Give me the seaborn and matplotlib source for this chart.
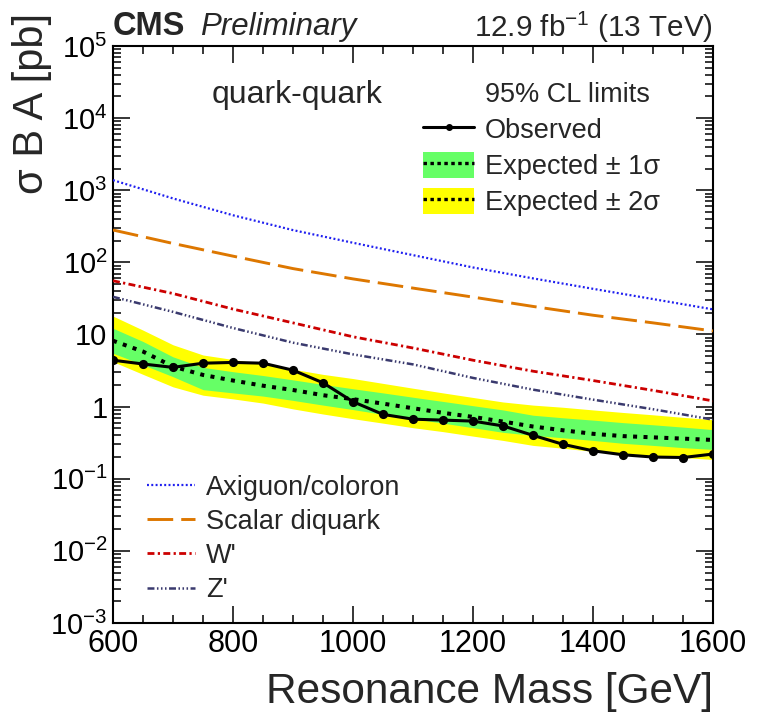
import matplotlib
matplotlib.use("Agg")
import matplotlib.pyplot as plt
import seaborn as sns
import numpy as np
from matplotlib.lines import Line2D
from matplotlib.patches import Patch
from matplotlib.ticker import LogLocator, MultipleLocator, FuncFormatter, NullFormatter

# ---------------------------------------------------------------- data
mass = [600, 650, 700, 750, 800, 850, 900, 950, 1000, 1050, 1100,
        1150, 1200, 1250, 1300, 1350, 1400, 1450, 1500, 1550, 1600]

observed = [4.4, 3.9, 3.5, 4.0, 4.1, 4.0, 3.2, 2.14, 1.17, 0.78, 0.67,
            0.65, 0.63, 0.54, 0.40, 0.30, 0.244, 0.215, 0.20, 0.197, 0.22]

expected = [8.2, 5.8, 3.6, 2.75, 2.3, 1.95, 1.7, 1.44, 1.27, 1.1, 0.95,
            0.82, 0.72, 0.62, 0.53, 0.47, 0.42, 0.39, 0.375, 0.36, 0.345]

exp_1s_up = [12.2, 8.0, 4.9, 3.5, 3.05, 2.7, 2.35, 2.03, 1.77, 1.55, 1.35,
             1.18, 1.03, 0.9, 0.76, 0.70, 0.65, 0.60, 0.56, 0.52, 0.48]
exp_1s_dn = [5.5, 3.8, 2.6, 1.72, 1.55, 1.4, 1.22, 1.05, 0.91, 0.78, 0.68,
             0.59, 0.51, 0.44, 0.40, 0.37, 0.34, 0.31, 0.29, 0.27, 0.255]
exp_2s_up = [18.0, 11.5, 7.2, 5.2, 4.5, 3.9, 3.3, 2.8, 2.45, 2.1, 1.8,
             1.55, 1.34, 1.16, 1.05, 0.98, 0.9, 0.83, 0.77, 0.71, 0.66]
exp_2s_dn = [4.2, 2.8, 1.88, 1.44, 1.28, 1.12, 0.93, 0.79, 0.68, 0.59, 0.51,
             0.45, 0.39, 0.34, 0.29, 0.265, 0.24, 0.225, 0.21, 0.197, 0.185]

theory_mass = [600, 700, 800, 900, 1000, 1100, 1200, 1300, 1400, 1500, 1600]
axigluon = [1380, 770, 450, 280, 187, 126, 85, 60, 43, 31, 22.3]
diquark = [281, 183, 122, 82, 59, 44, 33, 24.5, 18.5, 14.5, 11.2]
wprime = [55.6, 37, 22.5, 14.5, 9.3, 6.5, 4.4, 3.1, 2.3, 1.68, 1.2]
zprime = [33.3, 20.6, 12.3, 7.7, 5.3, 3.85, 2.5, 1.72, 1.25, 0.92, 0.66]

theory_labels = ["Axiguon/coloron", "Scalar diquark", "W'", "Z'"]
limit_labels = ["95% CL limits", "Observed", "Expected ± 1σ", "Expected ± 2σ"]

# ---------------------------------------------------------------- style
sns.set_theme(style="ticks")
plt.rcParams["font.family"] = ["Liberation Sans", "DejaVu Sans"]
plt.rcParams["mathtext.fontset"] = "custom"
plt.rcParams["mathtext.rm"] = "Liberation Sans"
plt.rcParams["mathtext.it"] = "Liberation Sans:italic"
plt.rcParams["mathtext.bf"] = "Liberation Sans:bold"
plt.rcParams["lines.scale_dashes"] = False

GREEN = "#66FF66"
YELLOW = "#FFFF00"
BLUE = "#1F1FF0"
ORANGE = "#DD7700"
RED = "#CC0000"
NAVY = "#3A3A6E"

theory_styles = [
    dict(color=BLUE, lw=1.6, linestyle=(0, (1.4, 1.7))),
    dict(color=ORANGE, lw=2.1, linestyle=(0, (18.5, 5.8))),
    dict(color=RED, lw=2.0, linestyle=(0, (5.0, 2.4, 1.6, 2.4))),
    dict(color=NAVY, lw=1.8, linestyle=(0, (5.0, 1.8, 1.1, 1.8, 1.1, 1.8, 1.1, 1.8))),
]

fig = plt.figure(figsize=(7.58, 7.16), dpi=100)
ax = fig.add_axes([113 / 758, 1 - 623 / 716, 600 / 758, 577 / 716])
ax.set_yscale("log")

# expected bands
ax.fill_between(mass, exp_2s_dn, exp_2s_up, color=YELLOW, lw=0, zorder=1)
ax.fill_between(mass, exp_1s_dn, exp_1s_up, color=GREEN, lw=0, zorder=2)

# theory curves
for vals, st in zip([axigluon, diquark, wprime, zprime], theory_styles):
    sns.lineplot(x=theory_mass, y=vals, ax=ax, zorder=3, **st)

# expected and observed limits
sns.lineplot(x=mass, y=expected, ax=ax, color="black", lw=2.9,
             linestyle=(0, (2.9, 4.6)), zorder=4)
sns.lineplot(x=mass, y=observed, ax=ax, color="black", lw=2.2,
             marker="o", markersize=6.6, markeredgecolor="black",
             markeredgewidth=0, zorder=5)

ax.set_xlim(600, 1600)
ax.set_ylim(1e-3, 1e5)


def decade_label(v, pos):
    e = int(round(np.log10(v)))
    if e == 0:
        return "1"
    if e == 1:
        return "10"
    return r"$\mathdefault{10^{%d}}$" % e


# axes, ticks
for sp in ax.spines.values():
    sp.set_linewidth(1.5)
    sp.set_color("black")
    sp.set_visible(True)
ax.xaxis.set_major_locator(MultipleLocator(200))
ax.xaxis.set_minor_locator(MultipleLocator(50))
ax.yaxis.set_major_locator(LogLocator(base=10, numticks=20))
ax.yaxis.set_minor_locator(LogLocator(base=10, subs=np.arange(2, 10), numticks=200))
ax.yaxis.set_major_formatter(FuncFormatter(decade_label))
ax.yaxis.set_minor_formatter(NullFormatter())
ax.tick_params(which="both", direction="in", top=True, right=True, colors="black")
ax.tick_params(which="major", length=12.5, width=1.1)
ax.tick_params(which="minor", length=6.0, width=1.1)
ax.tick_params(axis="x", which="major", labelsize=22, pad=4)
ax.tick_params(axis="y", which="major", labelsize=21, pad=4)

ax.set_xlabel("Resonance Mass [GeV]", fontsize=30.5, ha="right")
ax.xaxis.set_label_coords(1.0, -0.085)
ax.set_ylabel("σ B A [pb]", fontsize=30)
ax.yaxis.set_label_coords(-0.135, 1.057)
ax.yaxis.label.set_rotation_mode("default")
ax.yaxis.label.set_horizontalalignment("center")
ax.yaxis.label.set_verticalalignment("top")

# header
fig.text(113 / 758, 1 - 35 / 716, "CMS", fontsize=23.5, fontweight="bold",
         ha="left", va="baseline")
fig.text(200 / 758, 1 - 35 / 716, "Preliminary", fontsize=22.5, fontstyle="italic",
         ha="left", va="baseline")
fig.text(713 / 758, 1 - 37 / 716, r"12.9 fb$^{-1}$ (13 TeV)", fontsize=21.3,
         ha="right", va="baseline")
ax.text(0.165, 0.901, "quark-quark", transform=ax.transAxes, fontsize=23,
        ha="left", va="baseline")

# legend: limits
blank = Line2D([], [], linestyle="none")
h_obs = Line2D([], [], color="black", lw=2.2, marker="o", markersize=4)
h_exp = Line2D([], [], color="black", lw=2.4, linestyle=(0, (2.5, 2.5)))
h_1s = (Patch(facecolor=GREEN, edgecolor="none"), h_exp)
h_2s = (Patch(facecolor=YELLOW, edgecolor="none"), h_exp)
leg1 = ax.legend([blank, h_obs, h_1s, h_2s], limit_labels,
                 loc="upper left", bbox_to_anchor=(0.5167, 0.940),
                 frameon=False, fontsize=19.5, handlelength=1.89,
                 handleheight=1.05, handletextpad=0.4, labelspacing=0.30,
                 borderpad=0, borderaxespad=0)
ax.add_artist(leg1)

# legend: theory models
th_handles = [Line2D([], [], **st) for st in theory_styles]
ax.legend(th_handles, theory_labels, loc="upper left",
          bbox_to_anchor=(0.0567, 0.257), frameon=False, fontsize=19.5,
          handlelength=1.78, handletextpad=0.4, labelspacing=0.30,
          borderpad=0, borderaxespad=0)

fig.savefig("out.png", dpi=100)
